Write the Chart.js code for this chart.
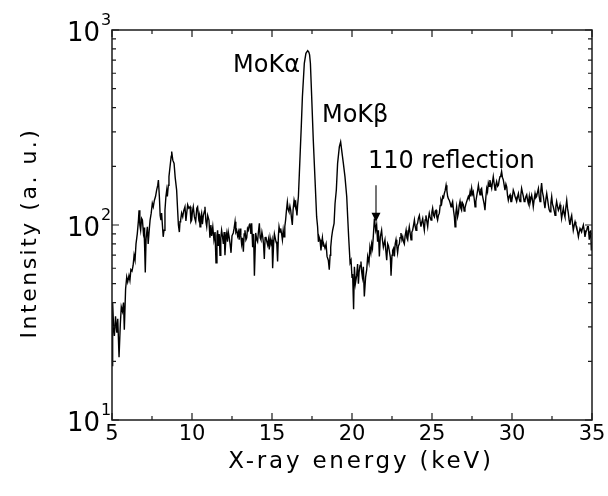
<!DOCTYPE html>
<html>
<head>
<meta charset="utf-8">
<script src="https://cdn.jsdelivr.net/npm/chart.js@4.4.1/dist/chart.umd.min.js"></script>
<style>
  html, body { margin: 0; padding: 0; background: #fff; }
</style>
</head>
<body>
<canvas id="chart" width="608" height="496"></canvas>
<script>
// spectrum (keV, counts)
const energy = [
  5.00, 5.04, 5.10, 5.15, 5.22, 5.30, 5.36, 5.44, 5.52, 5.58, 5.65, 5.72, 5.77, 5.85, 5.92, 5.98,
  6.06, 6.12, 6.18, 6.25, 6.32, 6.38, 6.44, 6.50, 6.58, 6.65, 6.69, 6.74, 6.79, 6.85, 6.90, 6.96,
  7.00, 7.04, 7.08, 7.13, 7.21, 7.26, 7.33, 7.38, 7.45, 7.52, 7.58, 7.65, 7.72, 7.79, 7.86, 7.90, 7.96,
  8.01, 8.06, 8.10, 8.15, 8.20, 8.25, 8.31, 8.37, 8.42, 8.46, 8.52, 8.56, 8.63, 8.70, 8.73, 8.80, 8.88, 8.95,
  9.04, 9.10, 9.15, 9.21, 9.25, 9.29, 9.35, 9.42, 9.48, 9.56, 9.62, 9.67, 9.73, 9.80, 9.88, 9.93, 9.98,
  10.03, 10.08, 10.15, 10.23, 10.30, 10.35, 10.42, 10.46, 10.50, 10.55, 10.60, 10.65, 10.71, 10.78, 10.81, 10.87, 10.92, 10.98,
  11.06, 11.12, 11.18, 11.23, 11.30, 11.37, 11.44, 11.50, 11.56, 11.60, 11.65, 11.70, 11.75, 11.80, 11.85, 11.90, 11.96,
  12.01, 12.06, 12.12, 12.17, 12.22, 12.27, 12.33, 12.38, 12.44, 12.50, 12.58, 12.63, 12.69, 12.74, 12.79, 12.85, 12.90, 12.95,
  13.00, 13.05, 13.10, 13.15, 13.21, 13.26, 13.31, 13.37, 13.42, 13.47, 13.52, 13.58, 13.62, 13.68, 13.73, 13.79, 13.85, 13.90, 13.98,
  14.05, 14.10, 14.15, 14.21, 14.26, 14.31, 14.37, 14.42, 14.47, 14.52, 14.57, 14.62, 14.68, 14.73, 14.78, 14.83, 14.88, 14.94,
  15.00, 15.04, 15.10, 15.15, 15.20, 15.25, 15.30, 15.35, 15.40, 15.44, 15.50, 15.54, 15.60, 15.65, 15.70, 15.75, 15.80, 15.85, 15.90, 15.96,
  16.01, 16.06, 16.12, 16.17, 16.22, 16.27, 16.32, 16.38, 16.43, 16.48, 16.52, 16.56, 16.60, 16.65, 16.71, 16.77, 16.83, 16.90,
  17.02, 17.12, 17.23, 17.30, 17.35, 17.40, 17.48, 17.58, 17.69, 17.79, 17.85, 17.90, 17.94,
  18.00, 18.06, 18.10, 18.15, 18.20, 18.23, 18.31, 18.38, 18.44, 18.52, 18.58, 18.63, 18.67, 18.73, 18.79, 18.88, 18.94,
  19.02, 19.10, 19.21, 19.29, 19.38, 19.46, 19.56, 19.67, 19.73, 19.79, 19.88, 19.94,
  20.00, 20.04, 20.10, 20.15, 20.21, 20.29, 20.35, 20.40, 20.44, 20.50, 20.56, 20.60, 20.65, 20.71, 20.77, 20.85, 20.92, 20.98,
  21.06, 21.12, 21.18, 21.23, 21.28, 21.33, 21.40, 21.48, 21.54, 21.60, 21.65, 21.71, 21.77, 21.85, 21.90, 21.96,
  22.06, 22.10, 22.17, 22.23, 22.28, 22.33, 22.40, 22.44, 22.50, 22.54, 22.60, 22.65, 22.70, 22.75, 22.80, 22.85, 22.90, 22.96,
  23.00, 23.06, 23.12, 23.17, 23.22, 23.27, 23.32, 23.38, 23.43, 23.48, 23.53, 23.58, 23.64, 23.69, 23.74, 23.79, 23.85, 23.90, 23.95,
  24.00, 24.05, 24.10, 24.15, 24.21, 24.26, 24.31, 24.37, 24.42, 24.47, 24.52, 24.57, 24.62, 24.68, 24.73, 24.78, 24.83, 24.88, 24.94, 24.99,
  25.04, 25.10, 25.15, 25.20, 25.25, 25.30, 25.35, 25.40, 25.46, 25.51, 25.56, 25.61, 25.67, 25.72, 25.77, 25.82, 25.88, 25.93, 25.98,
  26.03, 26.08, 26.13, 26.19, 26.24, 26.29, 26.35, 26.40, 26.44, 26.49, 26.54, 26.60, 26.65, 26.70, 26.75, 26.80, 26.85, 26.90, 26.96,
  27.01, 27.06, 27.12, 27.17, 27.22, 27.27, 27.32, 27.38, 27.43, 27.48, 27.53, 27.58, 27.64, 27.69, 27.74, 27.79, 27.85, 27.90, 27.95,
  28.00, 28.05, 28.10, 28.15, 28.21, 28.26, 28.31, 28.37, 28.42, 28.47, 28.52, 28.57, 28.62, 28.68, 28.73, 28.78, 28.83, 28.89, 28.94, 28.99,
  29.04, 29.10, 29.15, 29.20, 29.25, 29.30, 29.35, 29.40, 29.46, 29.51, 29.56, 29.62, 29.67, 29.72, 29.77, 29.82, 29.88, 29.93, 29.98,
  30.03, 30.08, 30.14, 30.19, 30.24, 30.29, 30.35, 30.40, 30.45, 30.50, 30.55, 30.60, 30.66, 30.71, 30.76, 30.81, 30.87, 30.92, 30.97,
  31.02, 31.08, 31.12, 31.18, 31.23, 31.28, 31.33, 31.39, 31.44, 31.49, 31.54, 31.60, 31.65, 31.70, 31.75, 31.80, 31.85, 31.90, 31.96,
  32.01, 32.06, 32.12, 32.17, 32.22, 32.27, 32.32, 32.38, 32.43, 32.48, 32.53, 32.58, 32.64, 32.69, 32.74, 32.79, 32.85, 32.90, 32.95,
  33.00, 33.05, 33.10, 33.16, 33.21, 33.26, 33.31, 33.37, 33.42, 33.47, 33.52, 33.57, 33.62, 33.68, 33.73, 33.78, 33.83, 33.89, 33.94, 33.99,
  34.04, 34.10, 34.15, 34.20, 34.25, 34.30, 34.35, 34.40, 34.46, 34.51, 34.56, 34.62, 34.67, 34.72, 34.77, 34.83, 34.88, 34.92, 34.96, 35.00
];
const intensity = [
  19, 40, 30, 27, 34, 28, 33, 21, 31, 38, 36, 40, 29, 47, 54, 51,
  55, 52, 59, 58, 62, 70, 66, 80, 90, 105, 119, 100, 94, 108, 106, 92,
  97, 77, 57, 85, 98, 80, 95, 106, 115, 129, 124, 134, 140, 151, 160, 170, 140,
  112, 106, 115, 100, 87, 94, 119, 140, 151, 140, 160, 177, 200, 225, 238, 215, 207, 175,
  151, 120, 100, 92, 104, 106, 115, 110, 118, 124, 105, 115, 127, 122, 124, 104, 106,
  118, 124, 110, 104, 122, 124, 108, 112, 98, 110, 115, 101, 112, 118, 124, 104, 98, 112,
  106, 86, 100, 88, 98, 84, 92, 64, 88, 94, 78, 90, 70, 86, 94, 88, 80,
  92, 70, 86, 91, 82, 92, 86, 80, 72, 88, 91, 96, 104, 92, 94, 88, 92, 84,
  96, 88, 80, 86, 73, 90, 94, 84, 86, 96, 94, 100, 102, 90, 102, 77, 90, 55, 91,
  84, 82, 92, 102, 86, 84, 92, 87, 80, 67, 86, 87, 82, 79, 84, 75, 86, 80,
  84, 60, 80, 90, 86, 82, 80, 65, 88, 98, 92, 96, 90, 84, 94, 87, 98, 106, 118, 131,
  120, 117, 125, 119, 108, 100, 120, 134, 128, 131, 120, 112, 126, 140, 184, 243, 320, 455,
  675, 759, 783, 770, 745, 675, 455, 273, 170, 110, 98, 82, 87,
  84, 74, 80, 86, 78, 80, 76, 80, 69, 66, 59, 70, 77, 87, 94, 102, 129,
  151, 207, 252, 267, 233, 207, 177, 140, 110, 87, 64, 66,
  54, 56, 37, 61, 50, 55, 63, 50, 57, 62, 65, 58, 54, 61, 43, 54, 59, 69,
  64, 77, 72, 80, 76, 87, 108, 94, 100, 82, 94, 69, 87, 94, 84, 77,
  84, 76, 66, 80, 78, 74, 68, 55, 70, 74, 76, 69, 80, 84, 78, 72, 78, 80,
  86, 91, 84, 87, 82, 80, 88, 94, 86, 84, 92, 98, 90, 84, 92, 94, 100, 106, 98,
  94, 100, 102, 108, 112, 104, 98, 104, 108, 100, 94, 106, 112, 104, 98, 108, 115, 110, 106, 116,
  122, 112, 110, 118, 119, 110, 106, 112, 115, 126, 134, 130, 140, 138, 145, 150, 160, 150, 140,
  136, 134, 130, 124, 128, 132, 118, 110, 98, 115, 124, 110, 115, 126, 132, 122, 119, 130, 127,
  118, 122, 128, 132, 136, 140, 136, 148, 140, 154, 144, 148, 136, 124, 132, 140, 150, 160, 150,
  143, 152, 154, 142, 134, 128, 119, 140, 154, 148, 164, 158, 170, 160, 154, 166, 177, 162, 151, 160,
  167, 158, 160, 170, 177, 180, 188, 176, 170, 160, 151, 162, 157, 142, 134, 140, 143, 132, 132,
  140, 151, 146, 140, 136, 132, 140, 145, 136, 132, 142, 154, 146, 140, 132, 134, 140, 143, 134,
  129, 140, 129, 136, 142, 134, 124, 136, 145, 138, 140, 148, 154, 140, 132, 150, 164, 148, 140,
  130, 122, 136, 145, 136, 127, 120, 117, 130, 140, 128, 124, 118, 112, 124, 132, 124, 119, 122,
  127, 118, 108, 116, 122, 114, 110, 124, 134, 122, 115, 106, 100, 108, 112, 102, 94, 100, 104, 100,
  98, 92, 87, 92, 96, 94, 92, 96, 100, 94, 87, 92, 94, 98, 98, 84, 92, 94, 74, 82
];

const xTickValues = [5, 7.5, 10, 12.5, 15, 17.5, 20, 22.5, 25, 27.5, 30, 32.5, 35];
const yMajorTicks = [10, 100, 1000];
const yMinorTicks = [20, 30, 40, 50, 60, 70, 80, 90, 200, 300, 400, 500, 600, 700, 800, 900];
const yExponents = ['1', '2', '3'];
const xTitle = 'X-ray energy (keV)';
const yTitle = 'Intensity (a. u.)';
const notes = [
  { text: 'MoKα', x: 16.75, y: 610, align: 'right' },
  { text: 'MoKβ', x: 18.12, y: 337, align: 'left' },
  { text: '110 reflection', x: 21.0, y: 196, align: 'left' }
];
const arrowAt = { x: 21.5, from: 160, to: 104 };

const FONT = "'DejaVu Sans', sans-serif";

const decorations = {
  id: 'decorations',
  afterDraw(chart) {
    const { ctx, chartArea: a, scales: { x, y } } = chart;
    ctx.save();
    ctx.strokeStyle = '#1a1a1a';
    ctx.fillStyle = '#000';

    // frame
    ctx.lineWidth = 1.5;
    ctx.strokeRect(a.left, a.top, a.right - a.left, a.bottom - a.top);

    // inward ticks on all four sides
    ctx.lineWidth = 1.2;
    ctx.beginPath();
    xTickValues.forEach(v => {
      const px = x.getPixelForValue(v);
      const len = v % 5 === 0 ? 7 : 4;
      ctx.moveTo(px, a.bottom); ctx.lineTo(px, a.bottom - len);
      ctx.moveTo(px, a.top); ctx.lineTo(px, a.top + len);
    });
    yMajorTicks.concat(yMinorTicks).forEach(v => {
      const py = y.getPixelForValue(v);
      const len = yMajorTicks.includes(v) ? 7 : 4;
      ctx.moveTo(a.left, py); ctx.lineTo(a.left + len, py);
      ctx.moveTo(a.right, py); ctx.lineTo(a.right - len, py);
    });
    ctx.stroke();

    // y tick labels with superscript exponent
    yMajorTicks.forEach((v, i) => {
      const py = y.getPixelForValue(v);
      ctx.font = '26px ' + FONT;
      ctx.textAlign = 'right';
      ctx.textBaseline = 'middle';
      ctx.fillText('10', a.left - 12, py + 4);
      ctx.font = '16px ' + FONT;
      ctx.textAlign = 'left';
      ctx.fillText(yExponents[i], a.left - 11, py - 9);
    });

    // peak notes
    ctx.font = '24px ' + FONT;
    ctx.textBaseline = 'alphabetic';
    notes.forEach(n => {
      ctx.textAlign = n.align;
      ctx.fillText(n.text, x.getPixelForValue(n.x), y.getPixelForValue(n.y));
    });

    // arrow for the 110 reflection
    const ax = x.getPixelForValue(arrowAt.x);
    const ay0 = y.getPixelForValue(arrowAt.from);
    const ay1 = y.getPixelForValue(arrowAt.to);
    ctx.lineWidth = 1.2;
    ctx.beginPath();
    ctx.moveTo(ax, ay0); ctx.lineTo(ax, ay1 - 8);
    ctx.stroke();
    ctx.beginPath();
    ctx.moveTo(ax - 4.5, ay1 - 9); ctx.lineTo(ax + 4.5, ay1 - 9); ctx.lineTo(ax, ay1);
    ctx.closePath();
    ctx.fill();

    // axis titles
    ctx.font = '23px ' + FONT;
    ctx.letterSpacing = '2.8px';
    ctx.textAlign = 'center';
    ctx.textBaseline = 'alphabetic';
    ctx.fillText(xTitle, 361, 468);
    ctx.translate(30, 233);
    ctx.rotate(-Math.PI / 2);
    ctx.textBaseline = 'middle';
    ctx.font = '22px ' + FONT;
    ctx.letterSpacing = '2.5px';
    ctx.fillText(yTitle, 0, 0);
    ctx.restore();
  }
};

new Chart(document.getElementById('chart'), {
  type: 'line',
  data: {
    datasets: [{
      data: energy.map((e, i) => ({ x: e, y: intensity[i] })),
      borderColor: '#000',
      borderWidth: 1.4,
      pointRadius: 0,
      tension: 0,
      fill: false
    }]
  },
  options: {
    responsive: false,
    devicePixelRatio: 1,
    animation: false,
    layout: { padding: { top: 30, right: 16, left: 0, bottom: 0 } },
    plugins: { legend: { display: false }, tooltip: { enabled: false } },
    scales: {
      x: {
        type: 'linear',
        min: 5,
        max: 35,
        grid: { display: false, drawTicks: false },
        border: { display: false },
        ticks: {
          stepSize: 5,
          autoSkip: false,
          maxRotation: 0,
          padding: 2,
          color: '#000',
          font: { family: FONT, size: 21 }
        },
        afterFit(s) {
          s.height = 76;
          s.paddingLeft = 0;
          s.paddingRight = 0;
        }
      },
      y: {
        type: 'logarithmic',
        min: 10,
        max: 1000,
        grid: { display: false, drawTicks: false },
        border: { display: false },
        ticks: { display: false },
        afterFit(s) {
          s.width = 112;
        }
      }
    }
  },
  plugins: [decorations]
});
</script>
</body>
</html>
